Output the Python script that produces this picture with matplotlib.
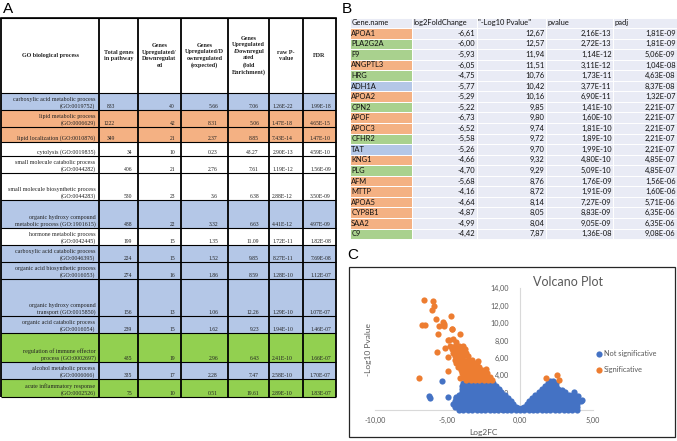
import matplotlib
matplotlib.use("Agg")
import matplotlib.pyplot as plt
from matplotlib.patches import Rectangle
from matplotlib.ticker import FuncFormatter, FixedLocator

W, H = 677, 441

# ---------------- Panel A data ----------------
go_process = [
    "carboxylic acid metabolic process\n(GO:0019752)",
    "lipid metabolic process\n(GO:0006629)",
    "lipid localization (GO:0010876)",
    "cytolysis (GO:0019835)",
    "small molecule catabolic process\n(GO:0044282)",
    "small molecule biosynthetic process\n(GO:0044283)",
    "organic hydroxy compound\nmetabolic process (GO:1901615)",
    "hormone metabolic process\n(GO:0042445)",
    "carboxylic acid catabolic process\n(GO:0046395)",
    "organic acid biosynthetic process\n(GO:0016053)",
    "organic hydroxy compound\ntransport (GO:0015850)",
    "organic acid catabolic process\n(GO:0016054)",
    "regulation of immune effector\nprocess (GO:0002697)",
    "alcohol metabolic process\n(GO:0006066)",
    "acute inflammatory response\n(GO:0002526)",
]
total_genes = [833, 1222, 349, 34, 406, 530, 488, 199, 224, 274, 156, 239, 435, 335, 75]
genes_updown = [40, 42, 21, 10, 21, 23, 22, 15, 15, 16, 13, 15, 19, 17, 10]
genes_expected = [5.66, 8.31, 2.37, 0.23, 2.76, 3.6, 3.32, 1.35, 1.52, 1.86, 1.06, 1.62, 2.96, 2.28, 0.51]
fold_enrichment = [7.06, 5.06, 8.85, 43.27, 7.61, 6.38, 6.63, 11.09, 9.85, 8.59, 12.26, 9.23, 6.43, 7.47, 19.61]
raw_p = [1.26e-22, 1.47e-18, 7.43e-14, 2.90e-13, 1.19e-12, 2.88e-12, 4.41e-12, 1.72e-11,
         8.27e-11, 1.28e-10, 1.29e-10, 1.94e-10, 2.41e-10, 2.58e-10, 2.89e-10]
fdr = [1.99e-18, 4.65e-15, 1.47e-10, 4.59e-10, 1.56e-09, 3.50e-09, 4.97e-09, 1.82e-08,
       7.69e-08, 1.12e-07, 1.07e-07, 1.46e-07, 1.66e-07, 1.70e-07, 1.83e-07]
go_group = ["blue", "orange", "orange", "none", "none", "none", "blue", "none",
            "blue", "blue", "blue", "blue", "green", "blue", "green"]
headers_a = [
    "GO biological process",
    "Total genes\nin pathway",
    "Genes\nUpregulated/\nDownregulat\ned",
    "Genes\nUpregulated/D\nownregulated\n(expected)",
    "Genes\nUpregulated\n/Downregul\nated\n(fold\nEnrichment)",
    "raw P-\nvalue",
    "FDR",
]

# ---------------- Panel B data ----------------
headers_b = ["Gene.name", "log2FoldChange", "\"-Log10 Pvalue\"", "pvalue", "padj"]
genes = ["APOA1", "PLA2G2A", "F9", "ANGPTL3", "HRG", "ADH1A", "APOA2", "CPN2", "APOF", "APOC3",
         "CFHR2", "TAT", "KNG1", "PLG", "AFM", "MTTP", "APOA5", "CYP8B1", "SAA2", "C9"]
log2fc = [-6.61, -6.00, -5.93, -6.05, -4.75, -5.77, -5.29, -5.22, -6.73, -6.52,
          -5.58, -5.26, -4.66, -4.70, -5.68, -4.16, -4.64, -4.87, -4.99, -4.42]
neglog10p = [12.67, 12.57, 11.94, 11.51, 10.76, 10.42, 10.16, 9.85, 9.80, 9.74,
             9.72, 9.70, 9.32, 9.29, 8.76, 8.72, 8.14, 8.05, 8.04, 7.87]
pvals = [2.16e-13, 2.72e-13, 1.14e-12, 3.11e-12, 1.73e-11, 3.77e-11, 6.90e-11, 1.41e-10, 1.60e-10, 1.81e-10,
         1.89e-10, 1.99e-10, 4.80e-10, 5.09e-10, 1.76e-09, 1.91e-09, 7.27e-09, 8.83e-09, 9.05e-09, 1.36e-08]
padj = [1.81e-09, 1.81e-09, 5.06e-09, 1.04e-08, 4.63e-08, 8.37e-08, 1.32e-07, 2.21e-07, 2.21e-07, 2.21e-07,
        2.21e-07, 2.21e-07, 4.85e-07, 4.85e-07, 1.56e-06, 1.60e-06, 5.71e-06, 6.35e-06, 6.35e-06, 9.08e-06]
gene_group = ["orange", "green", "green", "orange", "green", "blue", "orange", "green", "orange", "orange",
              "green", "blue", "orange", "green", "orange", "orange", "orange", "orange", "orange", "green"]

# ---------------- Panel C data ----------------
blue_levels = [0.05, 0.35, 0.7, 1.05, 1.4, 1.75, 2.1, 2.45, 2.8, 3.1, 3.35]
blue_rows = [
    [-4.2, -3.9, -3.6, -3.3, -3.0, -2.7, -2.4, -2.1, -1.8, -1.5, -1.2, -0.9, -0.6, -0.3, 0.0,
     0.3, 0.6, 0.9, 1.2, 1.5, 1.8, 2.1, 2.4, 2.7, 3.0, 3.3, 3.6, 3.9],
    [-4.5, -4.2, -3.9, -3.6, -3.3, -3.0, -2.7, -2.4, -2.1, -1.8, -1.5, -1.2, -0.9, -0.6, -0.3,
     0.3, 0.6, 0.9, 1.2, 1.5, 1.8, 2.1, 2.4, 2.7, 3.0, 3.3, 3.6, 3.9],
    [-4.6, -4.3, -4.0, -3.7, -3.4, -3.1, -2.8, -2.5, -2.2, -1.9, -1.6, -1.3, -1.0, -0.7, -0.45,
     0.45, 0.7, 1.0, 1.3, 1.6, 1.9, 2.2, 2.5, 2.8, 3.1, 3.4, 3.7, 3.95],
    [-4.5, -4.2, -3.9, -3.6, -3.3, -3.0, -2.7, -2.4, -2.1, -1.8, -1.5, -1.2, -0.9, -0.65,
     0.65, 0.9, 1.2, 1.5, 1.8, 2.1, 2.4, 2.7, 3.0, 3.3, 3.6, 3.9, 4.2],
    [-4.4, -4.1, -3.8, -3.5, -3.2, -2.9, -2.6, -2.3, -2.0, -1.7, -1.4, -1.1, -0.85,
     0.85, 1.1, 1.4, 1.7, 2.0, 2.3, 2.6, 2.9, 3.2, 3.5, 3.8],
    [-4.2, -3.9, -3.6, -3.3, -3.0, -2.7, -2.4, -2.1, -1.8, -1.5, -1.25, -1.05,
     1.05, 1.3, 1.6, 1.9, 2.2, 2.5, 2.8, 3.1, 3.4, 3.65],
    [-4.0, -3.7, -3.4, -3.1, -2.8, -2.5, -2.2, -1.9, -1.6, -1.3,
     1.3, 1.6, 1.9, 2.2, 2.5, 2.8, 3.1],
    [-4.0, -3.7, -3.4, -3.1, -2.8, -2.5, -2.2, -1.9, -1.6, -1.45,
     1.5, 1.8, 2.1, 2.4, 2.6],
    [-4.0, -3.7, -3.4, -3.1, -2.8, -2.5, -2.2, -1.9, -1.65, 1.7, 2.0, 2.3, 2.5],
    [-3.9, -3.6, -3.3, -3.0, -2.7, -2.4, -2.1, -1.85, 1.9, 2.2, 2.45],
    [2.1, 2.3],
]
blue_extra_x = [-5.35, -6.3, -6.2, -5.0, -4.4, 4.0, 3.75, 2.45, 4.25, 2.9, 3.7,
                -0.15, 0.15, -1.05, 1.05, -1.5, 1.55, -2.6, -0.75, 0.75]
blue_extra_y = [3.3, 1.65, 1.4, 1.45, 1.55, 1.65, 1.85, 2.45, 1.15, 2.3, 2.05,
                0.25, 0.25, 0.9, 0.9, 1.6, 1.6, 0.5, 0.55, 0.55]

sig_levels = [3.4, 3.8, 4.2, 4.6, 5.0, 5.4, 5.8, 6.2, 6.6, 7.0, 7.4]
sig_rows = [
    [-3.7, -3.4, -3.1, -2.8, -2.5, -2.2, -1.9],
    [-3.9, -3.6, -3.3, -3.0, -2.7, -2.4, -2.1],
    [-4.0, -3.7, -3.4, -3.1, -2.8, -2.5, -2.25],
    [-4.1, -3.8, -3.5, -3.2, -2.9, -2.6],
    [-4.3, -4.0, -3.7, -3.4, -3.1, -2.8],
    [-4.4, -4.1, -3.8, -3.5, -3.2, -2.95],
    [-4.5, -4.2, -3.9, -3.6, -3.3],
    [-4.5, -4.2, -3.9, -3.6],
    [-4.6, -4.3, -4.0, -3.7],
    [-4.7, -4.4, -4.1, -3.8],
    [-4.8, -4.5, -4.2, -3.95],
]
sig_extra_x = [-6.97, -5.7, -4.94, -4.94, -5.17, -4.14, -2.87, -2.34, 1.79, 2.56, 2.72]
sig_extra_y = [3.64, 6.7, 6.05, 4.48, 7.08, 3.7, 5.6, 4.7, 3.7, 4.07, 3.46]

# ---------------- Figure ----------------
fig = plt.figure(figsize=(W / 100, H / 100), dpi=100)
ax0 = fig.add_axes([0, 0, 1, 1])
ax0.set_xlim(0, W)
ax0.set_ylim(H, 0)
ax0.axis("off")

fills_a = {"blue": "#B4C7E7", "orange": "#F4B183", "green": "#92D050", "none": "white"}
fills_b = {"blue": "#B4C7E7", "orange": "#F4B183", "green": "#A9D18E"}

label_font = dict(family="Liberation Sans", fontsize=11, color="black")
ax0.text(3, 2, "A", ha="left", va="top", **label_font)
ax0.text(342, 2, "B", ha="left", va="top", **label_font)
ax0.text(347, 248, "C", ha="left", va="top", **label_font)

# ----- Table A -----
col_a = [1, 99, 138, 181, 228, 269, 303, 336]
row_a = [18, 93, 110, 127, 142, 156, 173, 200, 228, 245, 262, 279, 316, 333, 362, 379, 397]
serif = "Liberation Serif"
for i in range(len(go_process)):
    y0, y1 = row_a[i + 1], row_a[i + 2]
    ax0.add_patch(Rectangle((col_a[0], y0), col_a[-1] - col_a[0], y1 - y0,
                            facecolor=fills_a[go_group[i]], edgecolor="none", zorder=1))
for y in row_a:
    ax0.plot([col_a[0], col_a[-1]], [y, y], color="black", lw=0.8, zorder=3, solid_capstyle="butt")
ax0.plot([col_a[0], col_a[-1]], [row_a[0], row_a[0]], color="black", lw=1.2, zorder=3)
for x in col_a:
    ax0.plot([x, x], [row_a[0], row_a[-1]], color="black", lw=1.3, zorder=3, solid_capstyle="butt")

hy = (row_a[0] + row_a[1]) / 2
for j, h in enumerate(headers_a):
    cx = (col_a[j] + col_a[j + 1]) / 2
    ax0.text(cx, hy, h, ha="center", va="center", multialignment="center",
             fontsize=4.4, family=serif, fontweight="bold", linespacing=1.4, color="#222222", zorder=4)

num_right = [175, 218, 259, 293, 331]
go_fs = 4.35
num_fs = 4.1
for i in range(len(go_process)):
    yb = row_a[i + 2] - 0.8
    ax0.text(col_a[1] - 3.5, yb, go_process[i], ha="right", va="bottom", multialignment="right",
             fontsize=go_fs, family=serif, linespacing=1.22, color="#222222", zorder=4)
    tx = 115 if i < 3 else 132
    vals = [str(total_genes[i]), str(genes_updown[i]), str(genes_expected[i]), str(fold_enrichment[i]),
            f"{raw_p[i]:.2E}", f"{fdr[i]:.2E}"]
    xs = [tx] + num_right
    for v, x in zip(vals, xs):
        ax0.text(x, yb, v, ha="right", va="bottom", fontsize=num_fs, family=serif,
                 color="#222222", zorder=4)

# ----- Table B -----
col_b = [350, 412, 477, 546, 613, 677]
row_h = 10.55
top_b = 17.5
sans = "Lato"
bg_b = "#E9EBF5"
def comma(s):
    return s.replace(".", ",")
for r in range(len(genes) + 1):
    y0 = top_b + r * row_h
    for c in range(5):
        fc = bg_b
        if r > 0 and c == 0:
            fc = fills_b[gene_group[r - 1]]
        ax0.add_patch(Rectangle((col_b[c], y0), col_b[c + 1] - col_b[c], row_h,
                                facecolor=fc, edgecolor="white", lw=0.7, zorder=1))
    yc = y0 + row_h / 2
    if r == 0:
        for c, h in enumerate(headers_b):
            ax0.text(col_b[c] + 1.2, yc, h, ha="left", va="center", fontsize=5.4,
                     family=sans, color="#111111", zorder=4)
    else:
        k = r - 1
        ax0.text(col_b[0] + 1.2, yc, genes[k], ha="left", va="center", fontsize=5.4,
                 family=sans, color="#111111", zorder=4)
        vals = [comma(f"{log2fc[k]:.2f}"), comma(f"{neglog10p[k]:.2f}"),
                comma(f"{pvals[k]:.2E}"), comma(f"{padj[k]:.2E}")]
        for c, v in enumerate(vals, start=1):
            ax0.text(col_b[c + 1] - 1.5, yc, v, ha="right", va="center", fontsize=5.4,
                     family=sans, color="#111111", zorder=4)

# ----- Panel C -----
ax0.add_patch(Rectangle((349, 267), 326, 170, facecolor="white", edgecolor="#262626", lw=0.9, zorder=0))

x_left, x_right = 375, 592.5
y_bot, y_top = 410, 288.3
ax = fig.add_axes([x_left / W, 1 - y_bot / H, (x_right - x_left) / W, (y_bot - y_top) / H])
ax.patch.set_alpha(0)

blue_x, blue_y = [], []
for yv, row in zip(blue_levels, blue_rows):
    blue_x += row
    blue_y += [yv] * len(row)
blue_x += blue_extra_x
blue_y += blue_extra_y

sig_x = list(log2fc) + list(sig_extra_x)
sig_y = list(neglog10p) + list(sig_extra_y)
for yv, row in zip(sig_levels, sig_rows):
    sig_x += row
    sig_y += [yv] * len(row)

h1 = ax.scatter(blue_x, blue_y, s=20, color="#4472C4", linewidths=0, label="Not significative", zorder=3,
                clip_on=False)
h2 = ax.scatter(sig_x, sig_y, s=20, color="#ED7D31", linewidths=0, label="Significative", zorder=4,
                clip_on=False)

ax.set_xlim(-10, 5)
ax.set_ylim(0, 14)
for s in ["top", "right"]:
    ax.spines[s].set_visible(False)
ax.spines["left"].set_position(("data", 0))
ax.spines["bottom"].set_position(("data", 0))
for s in ["left", "bottom"]:
    ax.spines[s].set_color("#D9D9D9")
    ax.spines[s].set_linewidth(0.8)
    ax.spines[s].set_zorder(1)
ax.xaxis.set_major_locator(FixedLocator([-10, -5, 0, 5]))
ax.yaxis.set_major_locator(FixedLocator([0, 2, 4, 6, 8, 10, 12, 14]))
fmt = FuncFormatter(lambda v, p: f"{v:.2f}".replace(".", ","))
ax.xaxis.set_major_formatter(fmt)
ax.yaxis.set_major_formatter(fmt)
ax.tick_params(axis="both", length=0, labelsize=5.2, labelcolor="#595959")
ax.tick_params(axis="y", pad=8.0)
ax.tick_params(axis="x", pad=5.0)
for lab in ax.get_xticklabels() + ax.get_yticklabels():
    lab.set_fontfamily(sans)
    lab.set_zorder(5)

fig.text(568 / W, 1 - 282 / H, "Volcano Plot", ha="center", va="center", fontsize=9,
         family=sans, color="#595959")
fig.text(483 / W, 1 - 433 / H, "Log2FC", ha="center", va="center", fontsize=6,
         family=sans, color="#595959")
fig.text(368 / W, 1 - 350 / H, "-Log10 Pvalue", ha="center", va="center", rotation=90,
         fontsize=6, family=sans, color="#595959")

leg = fig.legend(handles=[h1, h2], loc="upper left", bbox_to_anchor=(597 / W, 1 - 350 / H),
                 frameon=False, handlelength=0.6, handletextpad=0.3,
                 labelspacing=1.25, borderpad=0, borderaxespad=0, prop={"family": sans, "size": 5.3})
for t in leg.get_texts():
    t.set_color("#595959")

fig.savefig("out.png", dpi=100)
